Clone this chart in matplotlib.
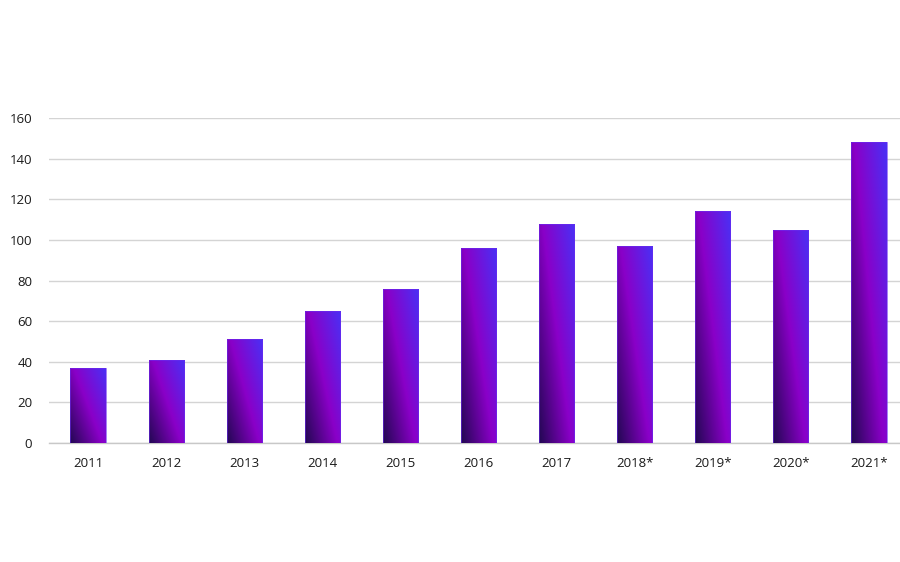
import numpy as np
import matplotlib
matplotlib.use("Agg")
import matplotlib.pyplot as plt
from matplotlib.colors import LinearSegmentedColormap

# Data
years = ["2011", "2012", "2013", "2014", "2015", "2016",
         "2017", "2018*", "2019*", "2020*", "2021*"]
values = [37, 41, 51, 65, 76, 96, 108, 97, 114, 105, 148]
y_ticks = [0, 20, 40, 60, 80, 100, 120, 140, 160]

plt.rcParams["font.family"] = ["Open Sans", "DejaVu Sans"]

# diagonal gradient: dark navy (bottom-left) -> purple -> blue (top-right)
cmap = LinearSegmentedColormap.from_list(
    "bars", ["#220852", "#8a00c8", "#4a30f5"]
)

fig = plt.figure(figsize=(9, 5.62), dpi=100)
# axes placed so that the grid starts at x~49px and 0..160 spans y 443..118
ax = fig.add_axes([49 / 900, 119 / 562, 859 / 900, 325 / 562])

x = np.arange(len(years))
bar_width = 0.45

bars = ax.bar(x, values, width=bar_width, color="none", edgecolor="none", zorder=3)

# fill each bar with its own gradient
gx = np.linspace(0, 1, 60)
gy = np.linspace(0, 1, 200)
u, v = np.meshgrid(gx, gy)
grad = 0.55 * u + 0.45 * v

for bar in bars:
    x0 = bar.get_x()
    w = bar.get_width()
    h = bar.get_height()
    im = ax.imshow(grad, cmap=cmap, origin="lower", aspect="auto",
                   extent=[x0, x0 + w, 0, h], vmin=0, vmax=1, zorder=3)
    im.set_clip_path(bar)
    ax.add_patch(plt.Rectangle((x0, 0), w, h, fill=False,
                               edgecolor="#6a2cf0", linewidth=0.6,
                               alpha=0.7, zorder=4))

ax.set_xlim(-0.5, len(years) - 0.5)
ax.set_ylim(0, 160)
ax.set_yticks(y_ticks)
ax.set_xticks(x)
ax.set_xticklabels(years)

ax.grid(axis="y", color="#d4d4d4", linewidth=1.0, zorder=0)
ax.set_axisbelow(True)
for side in ["top", "right", "left"]:
    ax.spines[side].set_visible(False)
ax.spines["bottom"].set_color("#c8c8c8")
ax.spines["bottom"].set_linewidth(1.0)

ax.tick_params(axis="both", length=0, labelsize=9.5, colors="#1a1a1a")
ax.tick_params(axis="x", pad=10)
ax.tick_params(axis="y", pad=12)

fig.savefig("out.png", dpi=100)
